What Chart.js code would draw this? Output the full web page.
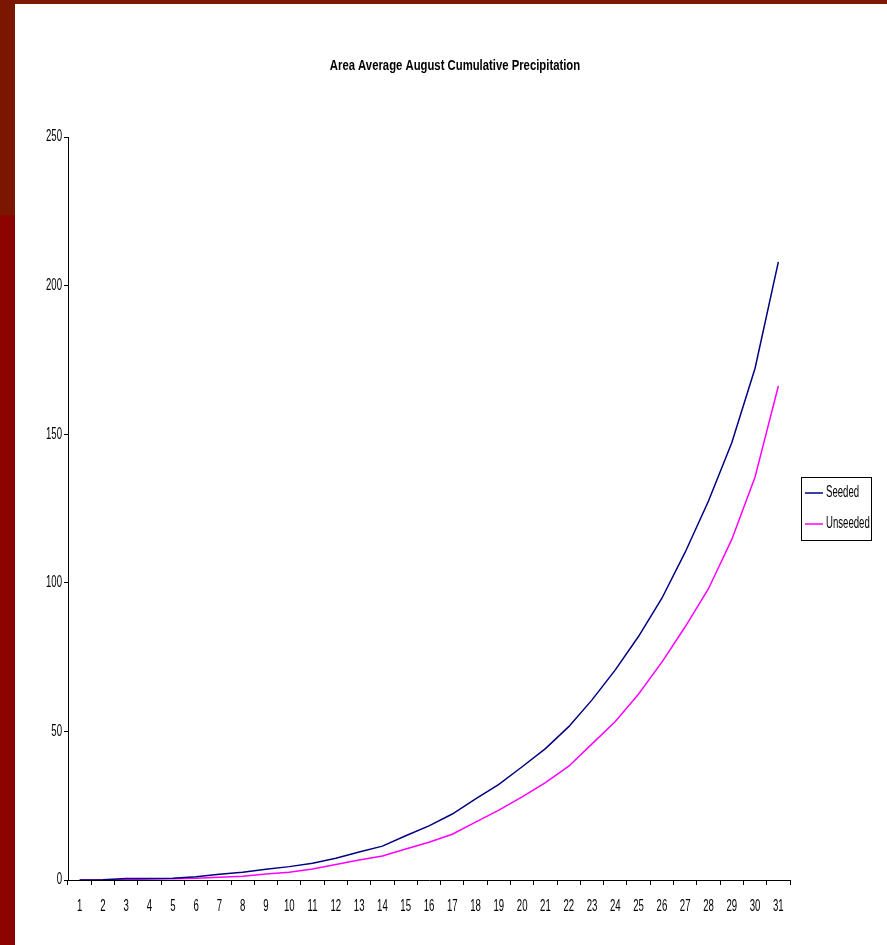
<!DOCTYPE html>
<html>
<head>
<meta charset="utf-8">
<script src="https://cdn.jsdelivr.net/npm/chart.js@4/dist/chart.umd.min.js"></script>
<style>
  html, body { margin: 0; padding: 0; background: #ffffff; }
  body { width: 887px; height: 945px; position: relative; overflow: hidden; }
  #topBar { position: absolute; left: 0; top: 0; width: 887px; height: 4px; background: #7b1a00; }
  #sideBarTop { position: absolute; left: 0; top: 0; width: 15px; height: 215px; background: #7b1600; }
  #sideBarBottom { position: absolute; left: 0; top: 215px; width: 15px; height: 730px; background: #8c0300; }
  #wrap { position: absolute; left: 15px; top: 4px; width: 872px; height: 941px; background: #ffffff; }
</style>
</head>
<body>
<div id="topBar"></div>
<div id="sideBarTop"></div>
<div id="sideBarBottom"></div>
<div id="wrap"><canvas id="chart" width="872" height="941"></canvas></div>
<script>
// Days of August
const days = ['1','2','3','4','5','6','7','8','9','10','11','12','13','14','15','16',
              '17','18','19','20','21','22','23','24','25','26','27','28','29','30','31'];

// Area-average cumulative precipitation
const seeded = [0, 0.1, 0.5, 0.5, 0.6, 1.1, 1.9, 2.6, 3.6, 4.5, 5.6, 7.3, 9.4, 11.4, 14.9, 18.2,
                22.2, 27.3, 32.2, 38.1, 44.2, 51.6, 60.6, 70.7, 82.0, 94.8, 110.3, 127.5, 147.1, 172.2, 208.0];
const unseeded = [0, 0, 0.2, 0.3, 0.4, 0.6, 0.9, 1.3, 2.0, 2.6, 3.7, 5.2, 6.7, 8.1, 10.4, 12.7,
                  15.4, 19.5, 23.5, 28.0, 32.8, 38.3, 45.8, 53.3, 62.6, 73.3, 85.2, 98.0, 114.6, 135.6, 166.2];

const seriesNames = ['Seeded', 'Unseeded'];
const titleText = 'Area Average August Cumulative Precipitation';

const FONT = "'Liberation Sans', Arial, sans-serif";

// Narrow, tall lettering: every label is drawn horizontally condensed around its anchor
const canvas = document.getElementById('chart');
const ctx2d = canvas.getContext('2d');
const baseFillText = ctx2d.fillText;
ctx2d.fillText = function (text, x, y, maxWidth) {
  const squeeze = /bold/.test(this.font) ? 0.78 : 0.6;
  this.save();
  this.translate(x, y);
  this.scale(squeeze, 1);
  if (maxWidth === undefined) baseFillText.call(this, text, 0, 0);
  else baseFillText.call(this, text, 0, 0, maxWidth / squeeze);
  this.restore();
};

// Boxed legend that occupies its own column on the right of the plot
const sideLegend = {
  id: 'sideLegend',
  start(chart) {
    const box = {
      position: 'right',
      weight: 0,
      fullSize: false,
      options: {},
      isHorizontal() { return false; },
      getPadding() { return { top: 0, left: 0, bottom: 0, right: 0 }; },
      update(maxWidth, maxHeight) { this.width = 97; this.height = maxHeight; },
      draw() {
        const ctx = chart.ctx;
        const area = chart.chartArea;
        const w = 70, h = 63;
        const x = Math.round(this.left + 11);
        const y = Math.round((area.top + area.bottom) / 2 - 32);
        ctx.save();
        ctx.strokeStyle = '#000000';
        ctx.lineWidth = 1;
        ctx.strokeRect(x + 0.5, y + 0.5, w, h);
        ctx.font = '16px ' + FONT;
        ctx.textBaseline = 'middle';
        ctx.textAlign = 'left';
        chart.data.datasets.forEach((ds, i) => {
          const cy = y + 16 + i * 31;
          ctx.strokeStyle = ds.borderColor;
          ctx.lineWidth = 1.5;
          ctx.beginPath();
          ctx.moveTo(x + 4, cy);
          ctx.lineTo(x + 22, cy);
          ctx.stroke();
          ctx.fillStyle = '#000000';
          ctx.fillText(ds.label, x + 25, cy);
        });
        ctx.restore();
      }
    };
    Chart.layouts.addBox(chart, box);
    chart.$sideLegend = box;
  },
  stop(chart) {
    if (chart.$sideLegend) Chart.layouts.removeBox(chart, chart.$sideLegend);
  }
};

new Chart(canvas, {
  type: 'line',
  data: {
    labels: days,
    datasets: [
      { label: seriesNames[0], data: seeded, borderColor: '#000080', borderWidth: 1.5,
        pointRadius: 0, tension: 0, fill: false },
      { label: seriesNames[1], data: unseeded, borderColor: '#ff00ff', borderWidth: 1.5,
        pointRadius: 0, tension: 0, fill: false }
    ]
  },
  options: {
    responsive: false,
    animation: false,
    layout: { padding: { left: 8, right: 0, top: 0, bottom: 0 } },
    plugins: {
      legend: { display: false },
      tooltip: { enabled: false },
      title: {
        display: true,
        text: titleText,
        color: '#000000',
        font: { family: FONT, size: 14.5, weight: 'bold' },
        padding: { top: 53, bottom: 62.6 }
      }
    },
    scales: {
      x: {
        type: 'category',
        offset: true,
        grid: { offset: true, drawOnChartArea: false, drawTicks: true, tickLength: 5, color: '#000000' },
        border: { display: true, color: '#000000', width: 1 },
        ticks: { color: '#000000', font: { family: FONT, size: 16 }, padding: 12, maxRotation: 0, autoSkip: false },
        afterFit(scale) { scale.height = 65; }
      },
      y: {
        min: 0,
        max: 250,
        grid: { drawOnChartArea: false, drawTicks: true, tickLength: 4, color: '#000000' },
        border: { display: true, color: '#000000', width: 1 },
        ticks: { stepSize: 50, color: '#000000', font: { family: FONT, size: 16 }, padding: 2 },
        afterFit(scale) { scale.width = 45; }
      }
    }
  },
  plugins: [sideLegend]
});
</script>
</body>
</html>
